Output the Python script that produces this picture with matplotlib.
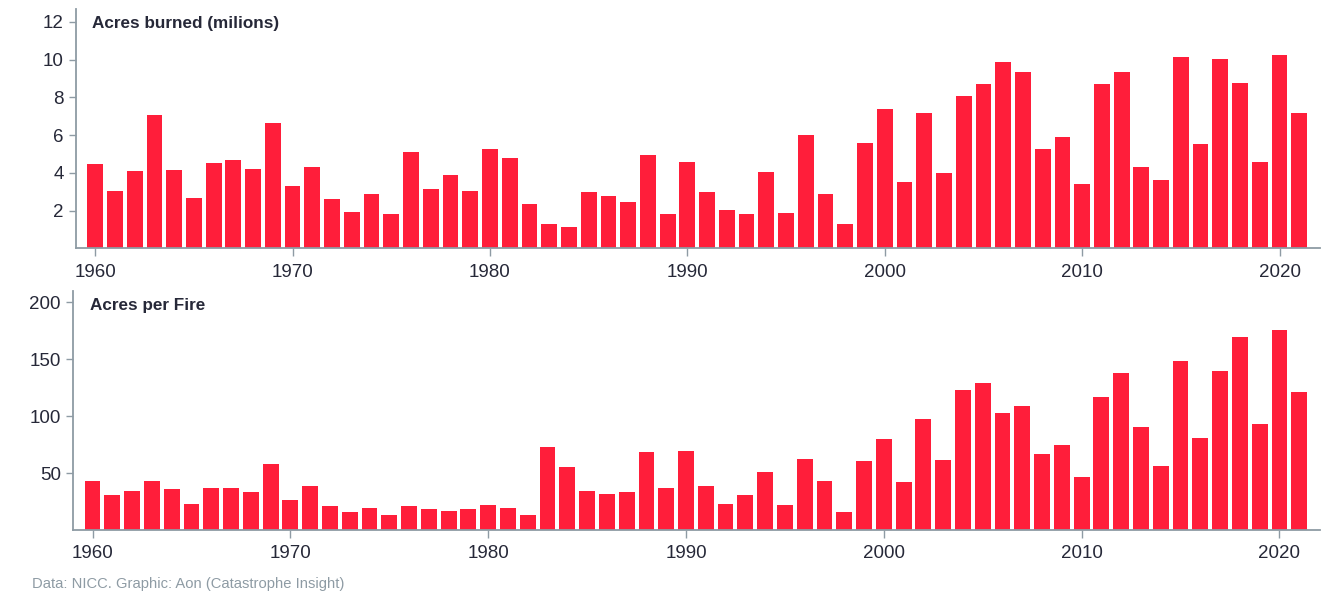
import matplotlib.pyplot as plt

plt.rcParams['font.family'] = ['Liberation Sans', 'DejaVu Sans']

years = list(range(1960, 2022))

# acres burned, millions
acres_burned = [4.47, 3.04, 4.10, 7.07, 4.15, 2.67, 4.52, 4.68, 4.20, 6.64,
                3.30, 4.31, 2.61, 1.92, 2.88, 1.82, 5.11, 3.14, 3.89, 3.03,
                5.27, 4.79, 2.35, 1.29, 1.13, 2.98, 2.77, 2.45, 4.95, 1.82,
                4.58, 2.98, 2.03, 1.82, 4.05, 1.87, 6.01, 2.88, 1.29, 5.58,
                7.39, 3.52, 7.17, 3.99, 8.08, 8.72, 9.88, 9.35, 5.27, 5.90,
                3.41, 8.72, 9.35, 4.31, 3.62, 10.14, 5.53, 10.04, 8.77, 4.58,
                10.25, 7.17]

# acres per fire
acres_per_fire = [43.1, 30.8, 34.3, 43.1, 36.0, 22.8, 36.9, 36.9, 33.4, 58.0,
                  26.4, 38.7, 21.1, 15.8, 19.3, 13.2, 21.1, 18.5, 16.7, 18.5,
                  22.0, 19.3, 13.2, 72.9, 55.4, 34.3, 31.6, 33.4, 68.5, 36.9,
                  69.4, 38.7, 22.8, 30.8, 51.0, 22.0, 62.4, 43.1, 15.8, 60.6,
                  80.0, 42.2, 97.5, 61.5, 123.0, 129.2, 102.8, 108.9, 66.8, 74.7,
                  46.6, 116.9, 138.0, 90.5, 56.2, 148.5, 80.8, 139.7, 169.6, 93.1,
                  175.7, 121.3]

top_ticks = [2, 4, 6, 8, 10, 12]
bottom_ticks = [50, 100, 150, 200]
x_ticks = [1960, 1970, 1980, 1990, 2000, 2010, 2020]

red = '#FF1E3A'
axis_grey = '#8E9BA4'
text_dark = '#262838'

fig = plt.figure(figsize=(13.39, 5.98), dpi=100)
ax1 = fig.add_axes([0.0568, 0.5848, 0.9290, 0.4002])
ax2 = fig.add_axes([0.0548, 0.1137, 0.9310, 0.3997])


def style(ax, values, yticks, ymax, title):
    ax.bar(years, values, width=0.8, color=red, zorder=2)
    ax.set_xlim(1959.03, 2022.05)
    ax.set_ylim(0, ymax)
    ax.set_xticks(x_ticks)
    ax.set_yticks(yticks)
    for s in ['top', 'right']:
        ax.spines[s].set_visible(False)
    for s in ['left', 'bottom']:
        ax.spines[s].set_color(axis_grey)
        ax.spines[s].set_linewidth(1.3)
    ax.tick_params(axis='y', length=5, width=1, color=axis_grey, pad=4,
                   labelsize=13.5, labelcolor=text_dark)
    ax.tick_params(axis='x', length=6, width=1, color=axis_grey, pad=5,
                   labelsize=13.5, labelcolor=text_dark)
    ax.text(0.013, 0.972, title, transform=ax.transAxes, ha='left', va='top',
            fontsize=12.3, fontweight='bold', color=text_dark)


style(ax1, acres_burned, top_ticks, 12.69, 'Acres burned (milions)')
style(ax2, acres_per_fire, bottom_ticks, 210, 'Acres per Fire')

fig.text(0.024, 0.0234, 'Data: NICC. Graphic: Aon (Catastrophe Insight)',
         fontsize=10.6, color='#8E9BA4', ha='left', va='center')

fig.savefig('out.png', dpi=100)
